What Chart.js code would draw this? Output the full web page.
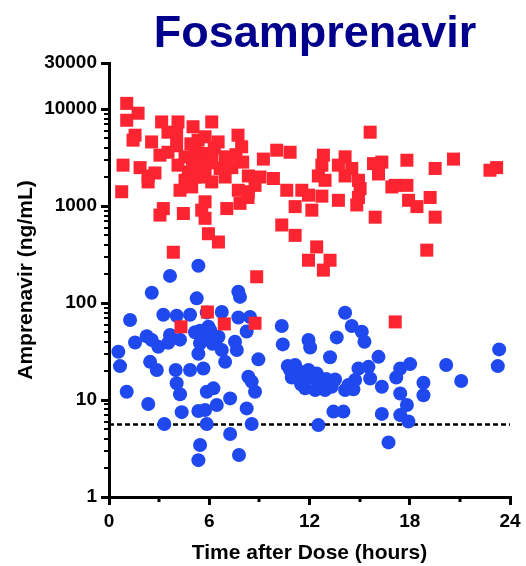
<!DOCTYPE html>
<html>
<head>
<meta charset="utf-8">
<script src="https://cdn.jsdelivr.net/npm/chart.js@4"></script>
<style>
  html, body { margin: 0; padding: 0; background: #fff; }
  #wrap { position: relative; width: 526px; height: 566px; }
  #title {
    position: absolute; left: 315px; top: 9px; transform: translateX(-50%);
    font: bold 45px "Liberation Sans", Arial, sans-serif; line-height: 1;
    color: #00008c; white-space: nowrap;
  }
</style>
</head>
<body>
<div id="wrap">
  <canvas id="chart" width="526" height="566"></canvas>
  <div id="title">Fosamprenavir</div>
</div>
<script>
// Red squares: time (h) and concentration (ng/mL)
const redHours = [
  1.06, 1.74, 1.06, 1.56, 1.44, 2.55, 3.15, 4.13, 5.03, 6.15, 3.53, 4.05,
  0.84, 1.86, 2.34, 2.75, 2.34, 3.05, 3.53, 4.05, 4.55, 4.13, 5.33, 5.75,
  6.53, 7.72, 7.94, 5.15, 5.75, 5.33, 6.15, 6.95, 4.75, 5.75, 6.65, 7.35,
  8.0, 4.55, 5.15, 6.15, 6.95, 8.34, 4.25, 4.95, 7.74, 8.34, 7.84, 0.76,
  3.25, 3.05, 4.45, 5.75, 5.55, 5.75, 7.05, 5.95, 6.55, 3.85,
  6.3, 7.0, 5.0, 6.0, 7.6, 4.9, 5.5,
  15.63, 10.04, 10.84, 9.24, 12.83, 14.13, 12.74, 13.73, 14.53, 15.83, 16.33, 16.13,
  12.53, 12.93, 14.13, 14.93, 15.03, 9.04, 9.84, 8.74, 8.32, 10.64, 11.54, 11.94,
  12.74, 11.14, 12.14, 13.73, 14.83, 14.93, 15.93, 10.34, 11.14, 12.43, 11.94, 13.23,
  12.83, 8.84, 16.93, 17.83, 20.62, 19.52, 22.8, 23.2, 17.13, 17.83, 17.93, 18.43,
  19.22, 19.52, 19.02, 17.13, 5.89, 4.31, 6.9, 8.74
];
const redConc = [
  11500, 9100, 7700, 5400, 4800, 4600, 7400, 7400, 6600, 7400, 5800, 5600,
  2650, 2500, 2050, 2200, 1780, 3360, 3600, 4200, 3230, 2650, 4800, 5200,
  4600, 5400, 4100, 3600, 3500, 2850, 3230, 3230, 2250, 2350, 2450, 2500,
  2850, 1850, 2000, 1780, 2000, 2050, 1460, 1580, 1460, 1410, 1070, 1410,
  945, 810, 840, 1110, 910, 750, 945, 520, 427, 335,
  4000, 2700, 2700, 2800, 3400, 4400, 2000,
  5800, 3780, 3600, 3060, 3360, 3230, 2650, 2650, 2450, 2750, 2850, 2150,
  2050, 1850, 2050, 1850, 1520, 2000, 1930, 1640, 1230, 1460, 1460, 1300,
  1270, 990, 910, 1150, 1030, 1230, 770, 640, 500, 380, 277, 277,
  219, 187, 1580, 2980, 3060, 2450, 2350, 2500, 1640, 1640, 1150, 990,
  1230, 770, 352, 64, 81, 57, 61, 62
];

// Blue circles: time (h) and concentration (ng/mL)
const blueHours = [
  5.35, 3.65, 2.56, 5.25, 7.74, 7.84, 1.26, 3.25, 4.05, 4.85, 5.85, 6.75,
  7.74, 8.44, 8.24, 5.15, 5.95, 6.55, 3.65, 4.25, 5.55, 5.45, 2.26, 2.56,
  2.95, 1.56, 3.55, 5.35, 6.75, 6.95, 7.65, 7.54, 0.56, 0.66, 2.46, 2.86,
  3.99, 4.85, 5.65, 4.05, 4.25, 5.85, 6.25, 7.25, 1.06, 2.35, 4.35, 5.35,
  5.75, 6.45, 8.24, 3.31, 5.85, 8.54, 7.25, 5.45, 5.35, 7.78, 5.45, 5.85,
  6.05, 6.45, 10.34, 10.4, 8.94, 8.74, 8.34, 8.54, 5.6, 6.2,
  14.13, 14.53, 15.13, 15.29, 13.63, 11.94, 12.04, 13.23, 16.13, 11.14, 11.44, 10.94,
  11.74, 11.94, 12.14, 11.74, 12.34, 12.93, 13.33, 13.53, 14.13, 14.63, 14.73, 14.93,
  15.53, 15.63, 14.33, 16.33, 13.43, 14.03, 12.53, 16.33, 16.73, 10.84, 11.14, 12.43,
  12.6, 11.5, 13.0, 10.7,
  17.43, 18.02, 20.18, 21.08, 23.35, 23.27, 17.19, 17.43, 18.82, 18.82, 17.83, 17.43,
  17.92
];
const blueConc = [
  243, 191, 128, 112, 131, 116, 67, 76, 74, 76, 80, 81,
  71, 72, 51, 50, 57, 45, 47, 42, 43, 38.5, 45.5, 41.6,
  35.5, 39.3, 39, 30, 32.8, 24.8, 32.8, 40, 31.5, 22.4, 24.8, 20.4,
  20.4, 20.4, 21.2, 14.9, 11.5, 12.2, 13.2, 10.4, 12.2, 9.1, 7.5, 7.7,
  7.9, 8.9, 8.2, 5.66, 5.66, 5.66, 4.46, 3.44, 2.4, 2.71, 52, 48.6,
  52.5, 43, 58, 37.5, 26.3, 12.2, 17.4, 15.5, 46, 38,
  79.5, 58, 50.6, 40, 44.3, 41.6, 34.9, 27.6, 27.9, 23, 19.6, 17.1,
  16.7, 20.4, 17.1, 13.2, 12.7, 12.7, 13.7, 16.3, 12.7, 12.9, 16.1, 21.2,
  22, 16.7, 14.3, 13.7, 7.6, 7.6, 5.52, 7.2, 3.66, 20.4, 17.4, 18.8,
  15.5, 14.5, 16.5, 22.5,
  21.2, 23.5, 23, 15.7, 33.3, 22.4, 17.1, 11.7, 15.1, 11.2, 8.9, 7.0,
  6.0
];

// Axes
const xTicks = [0, 6, 12, 18, 24];
const xMinorTicks = [3, 9, 15, 21];
const yTicks = [1, 10, 100, 1000, 10000, 30000];
const yMinorTicks = [2, 3, 4, 5, 6, 7, 8, 9, 20, 30, 40, 50, 60, 70, 80, 90,
  200, 300, 400, 500, 600, 700, 800, 900, 2000, 3000, 4000, 5000, 6000, 7000, 8000, 9000];

// Dashed reference level (ng/mL)
const cutoffLevel = 5.6;

const toPoints = (xs, ys) => xs.map((x, i) => ({ x: x, y: ys[i] }));

const FONT = '"Liberation Sans", Arial, sans-serif';

// short minor tick marks on both axes
const minorTicks = {
  id: 'minorTicks',
  afterDraw(chart) {
    const ctx = chart.ctx;
    const xs = chart.scales.x;
    const ys = chart.scales.y;
    const area = chart.chartArea;
    ctx.save();
    ctx.strokeStyle = '#000';
    ctx.lineWidth = 3;
    ctx.beginPath();
    xMinorTicks.forEach(v => {
      const px = Math.round(xs.getPixelForValue(v));
      ctx.moveTo(px, area.bottom);
      ctx.lineTo(px, area.bottom + 5);
    });
    ctx.stroke();
    ctx.lineWidth = 2;
    ctx.beginPath();
    yMinorTicks.forEach(v => {
      const py = Math.round(ys.getPixelForValue(v));
      ctx.moveTo(area.left - 5, py);
      ctx.lineTo(area.left, py);
    });
    ctx.stroke();
    ctx.restore();
  }
};

new Chart(document.getElementById('chart'), {
  type: 'scatter',
  data: {
    datasets: [
      {
        data: toPoints(redHours, redConc),
        pointStyle: 'rect',
        pointRadius: 9.2,
        pointHoverRadius: 9.2,
        backgroundColor: '#fb2430',
        borderWidth: 0,
        order: 0
      },
      {
        data: toPoints(blueHours, blueConc),
        pointStyle: 'circle',
        pointRadius: 7,
        pointHoverRadius: 7,
        backgroundColor: '#1f48ef',
        borderWidth: 0,
        order: 1
      },
      {
        type: 'line',
        data: [{ x: 0, y: cutoffLevel }, { x: 24, y: cutoffLevel }],
        borderColor: '#000',
        borderWidth: 2.5,
        borderDash: [5, 3],
        pointRadius: 0,
        fill: false,
        order: 2
      }
    ]
  },
  options: {
    responsive: false,
    animation: false,
    events: [],
    layout: { padding: { top: 63, right: 16, left: 0, bottom: 0 } },
    plugins: {
      legend: { display: false },
      tooltip: { enabled: false },
      title: { display: false }
    },
    scales: {
      x: {
        type: 'linear',
        min: 0,
        max: 24,
        afterBuildTicks: s => { s.ticks = xTicks.map(v => ({ value: v })); },
        afterFit: s => { s.height = 69; },
        border: { color: '#000', width: 3 },
        grid: { drawOnChartArea: false, color: '#000', lineWidth: 3, tickLength: 8 },
        ticks: {
          color: '#000',
          padding: 5,
          maxRotation: 0,
          font: { family: FONT, size: 19, weight: 'bold' }
        },
        title: {
          display: true,
          text: 'Time after Dose (hours)',
          color: '#000',
          font: { family: FONT, size: 21, weight: 'bold' },
          padding: { top: 0, bottom: 0 }
        }
      },
      y: {
        type: 'logarithmic',
        min: 1,
        max: 30000,
        afterBuildTicks: s => { s.ticks = yTicks.map(v => ({ value: v })); },
        afterFit: s => { s.width = 109; },
        border: { color: '#000', width: 3 },
        grid: { drawOnChartArea: false, color: '#000', lineWidth: 3, tickLength: 8 },
        ticks: {
          color: '#000',
          padding: 4,
          callback: v => String(v),
          font: { family: FONT, size: 19, weight: 'bold' }
        },
        title: {
          display: true,
          text: 'Amprenavir (ng/mL)',
          color: '#000',
          font: { family: FONT, size: 21, weight: 'bold' },
          padding: { top: 14, bottom: 0 }
        }
      }
    }
  },
  plugins: [minorTicks]
});
</script>
</body>
</html>
